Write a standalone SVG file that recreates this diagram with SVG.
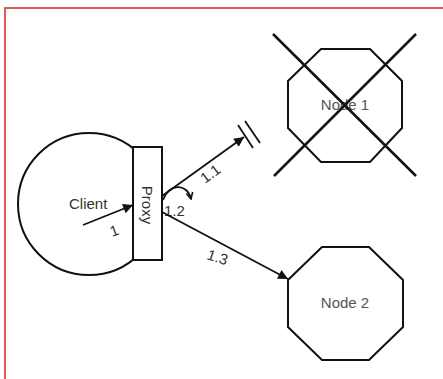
<svg xmlns="http://www.w3.org/2000/svg" width="443" height="379" viewBox="0 0 443 379">
<style>
.shape{fill:#fff;stroke:#111;stroke-width:2}
.lbl{font-family:"Liberation Sans",Arial,sans-serif;font-size:15px;fill:#333}
.nlbl{font-family:"Liberation Sans",Arial,sans-serif;font-size:15px;fill:#555;text-anchor:middle}
.conn{fill:none;stroke:#111;stroke-width:1.8}
.cross{stroke:#111;stroke-width:2.5}
</style>
<defs>
<marker id="arr" viewBox="0 0 10 10" refX="10" refY="5" markerWidth="8.5" markerHeight="5.5" markerUnits="strokeWidth" orient="auto">
<path d="M0,0 L10,5 L0,10 z" fill="#111"/>
</marker>
<marker id="open" viewBox="0 0 10 10" refX="9" refY="5" markerWidth="4.5" markerHeight="4.5" markerUnits="strokeWidth" orient="auto">
<path d="M1,1 L9,5 L1,9" fill="none" stroke="#111" stroke-width="2"/>
</marker>
</defs>
<rect width="443" height="379" fill="#fff"/>
<path d="M5,379 V8 H443" fill="none" stroke="#e05a5a" stroke-width="2"/>
<g id="client">
<circle class="shape" cx="89" cy="204" r="71" stroke-width="1.8"/>
<text class="lbl" x="69" y="209">Client</text>
</g>
<g id="proxy">
<rect class="shape" x="133" y="147" width="29" height="113" stroke-width="1.5"/>
<text class="lbl" transform="translate(142,205) rotate(90)" text-anchor="middle">Proxy</text>
</g>
<g id="node1">
<polygon class="shape" points="321,49 370,49 402,81 402,128 370,162 321,162 288,128 288,81"/>
<text class="nlbl" x="345" y="110">Node 1</text>
<line class="cross" x1="273" y1="34" x2="416" y2="176"/>
<line class="cross" x1="416" y1="34" x2="274" y2="176"/>
</g>
<g id="node2">
<polygon class="shape" points="322,247 369,247 403,280 403,327 369,360 322,360 288,327 288,280"/>
<text class="nlbl" x="345" y="308">Node 2</text>
</g>
<g id="connectors">
<line class="conn" x1="83" y1="225" x2="133" y2="205" marker-end="url(#arr)"/>
<text class="lbl" transform="translate(112,237) rotate(-20)">1</text>
<line class="conn" x1="162" y1="196" x2="244" y2="137" marker-end="url(#arr)"/>
<line class="conn" x1="238" y1="125" x2="253" y2="148" stroke-width="2"/>
<line class="conn" x1="245" y1="121" x2="260" y2="143" stroke-width="2"/>
<text class="lbl" transform="translate(205,184) rotate(-36)">1.1</text>
<path class="conn" d="M163,200 C168,184 187,182 191,199" stroke-width="1.5" marker-end="url(#open)"/>
<text class="lbl" x="164" y="216">1.2</text>
<line class="conn" x1="162" y1="212" x2="288" y2="279" marker-end="url(#arr)"/>
<text class="lbl" transform="translate(206,259) rotate(18)">1.3</text>
</g>
</svg>
